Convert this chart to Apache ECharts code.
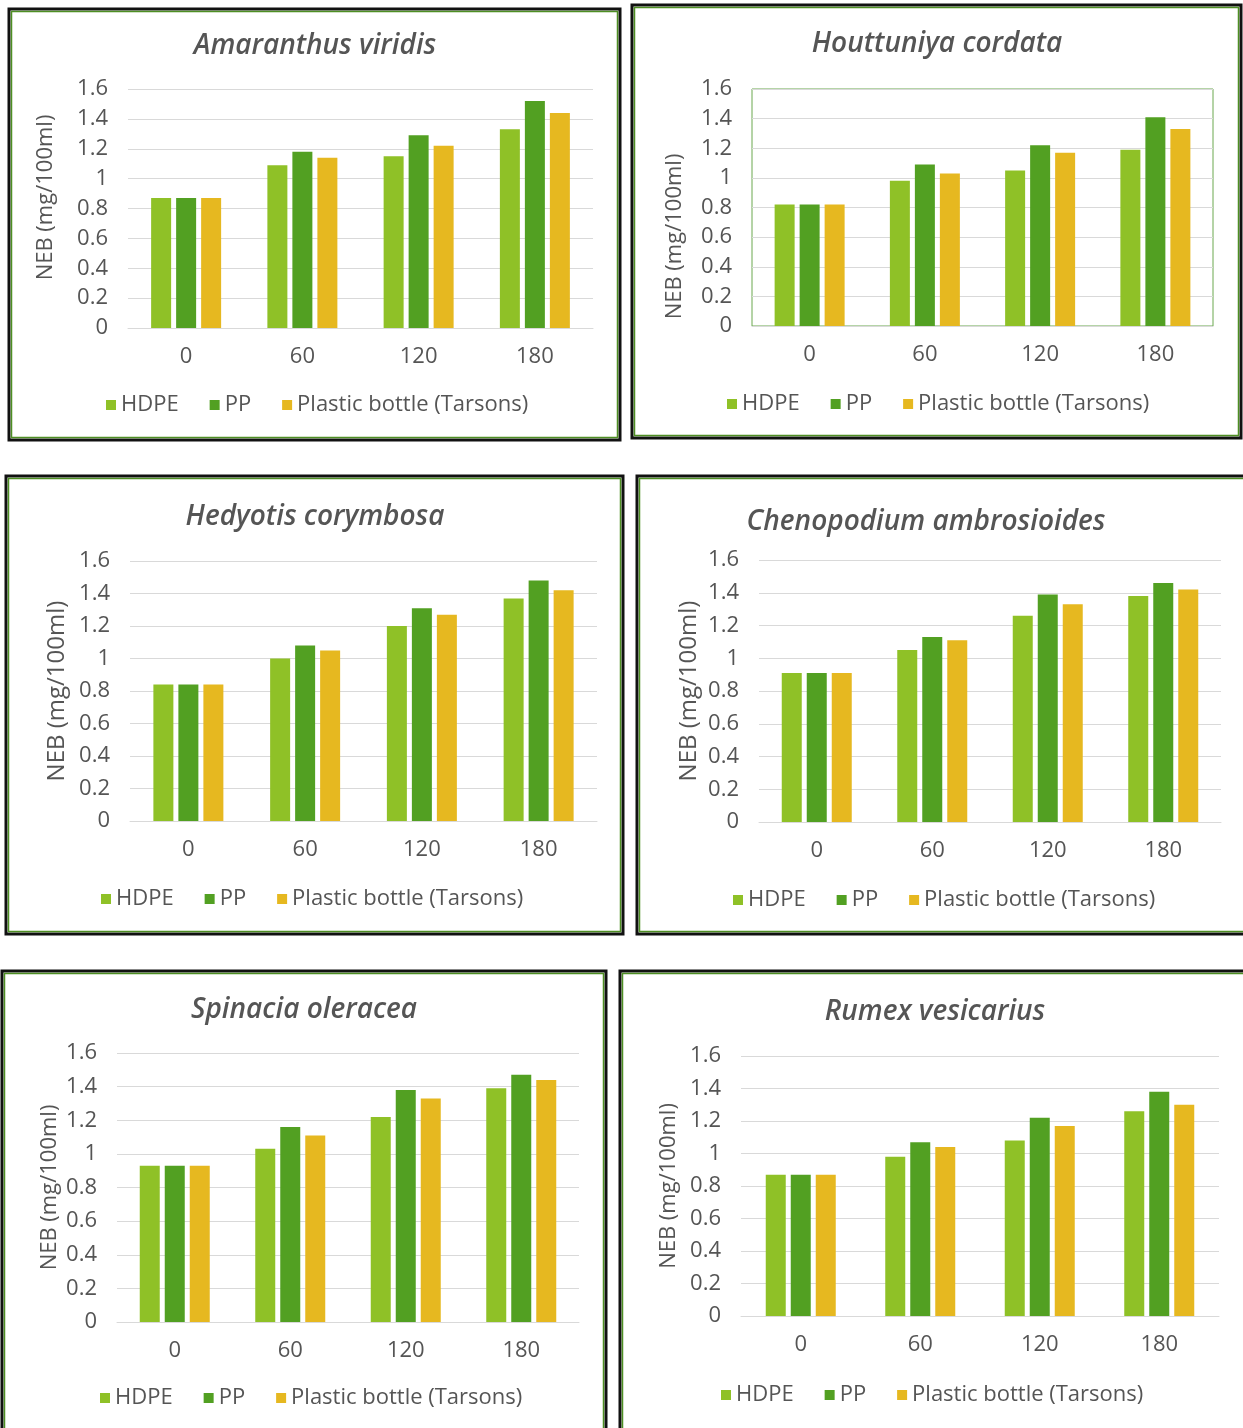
<!DOCTYPE html>
<html>
<head>
<meta charset="utf-8">
<script src="https://cdn.jsdelivr.net/npm/echarts@6/dist/echarts.min.js"></script>
<style>
html,body{margin:0;padding:0;background:#fff;}
#chart{width:1243px;height:1428px;}
</style>
</head>
<body>
<div id="chart"></div>
<script>
// ---- data ----
const categories = ['0', '60', '120', '180'];
const seriesNames = ['HDPE', 'PP', 'Plastic bottle (Tarsons)'];
const panelTitles = ['Amaranthus viridis', 'Houttuniya cordata', 'Hedyotis corymbosa',
  'Chenopodium ambrosioides', 'Spinacia oleracea', 'Rumex vesicarius'];
const yAxisName = 'NEB (mg/100ml)';
const yMin = 0, yMax = 1.6, yStep = 0.2;

const amaranthusHDPE = [0.87, 1.09, 1.15, 1.33];
const amaranthusPP = [0.87, 1.18, 1.29, 1.52];
const amaranthusTarsons = [0.87, 1.14, 1.22, 1.44];

const houttuniyaHDPE = [0.82, 0.98, 1.05, 1.19];
const houttuniyaPP = [0.82, 1.09, 1.22, 1.41];
const houttuniyaTarsons = [0.82, 1.03, 1.17, 1.33];

const hedyotisHDPE = [0.84, 1.00, 1.20, 1.37];
const hedyotisPP = [0.84, 1.08, 1.31, 1.48];
const hedyotisTarsons = [0.84, 1.05, 1.27, 1.42];

const chenopodiumHDPE = [0.91, 1.05, 1.26, 1.38];
const chenopodiumPP = [0.91, 1.13, 1.39, 1.46];
const chenopodiumTarsons = [0.91, 1.11, 1.33, 1.42];

const spinaciaHDPE = [0.93, 1.03, 1.22, 1.39];
const spinaciaPP = [0.93, 1.16, 1.38, 1.47];
const spinaciaTarsons = [0.93, 1.11, 1.33, 1.44];

const rumexHDPE = [0.87, 0.98, 1.08, 1.26];
const rumexPP = [0.87, 1.07, 1.22, 1.38];
const rumexTarsons = [0.87, 1.04, 1.17, 1.30];

const panelData = [
  [amaranthusHDPE, amaranthusPP, amaranthusTarsons],
  [houttuniyaHDPE, houttuniyaPP, houttuniyaTarsons],
  [hedyotisHDPE, hedyotisPP, hedyotisTarsons],
  [chenopodiumHDPE, chenopodiumPP, chenopodiumTarsons],
  [spinaciaHDPE, spinaciaPP, spinaciaTarsons],
  [rumexHDPE, rumexPP, rumexTarsons]
];

// ---- layout / style ----
const colors = ['#8FC127', '#52A022', '#E6B820'];
const FONT = 'Open Sans';
const TXT = '#555555';
// nameShift: >0 moves the axis name up, <0 down (pixels)
const layout = [
  {box:[9,9,620,440],   grid:[128,89,465,239], title:[315,46],  nameGap:71, nameSize:22, nameShift:11,  legend:[106,405], plotBorder:false},
  {box:[632,5,1241,438],grid:[752,89,461,237], title:[937,44],  nameGap:66, nameSize:22, nameShift:-29, legend:[727,404], plotBorder:true},
  {box:[6,476,623,934], grid:[130,561,467,260],title:[315,517], nameGap:61, nameSize:24, nameShift:0,   legend:[101,899], plotBorder:false},
  {box:[637,476,1250,934],grid:[759,560,462,262],title:[926,522],nameGap:58, nameSize:24, nameShift:0,  legend:[733,900], plotBorder:false},
  {box:[2,971,606,1440],grid:[117,1053,462,269],title:[304,1010],nameGap:56, nameSize:22, nameShift:0,  legend:[100,1398], plotBorder:false},
  {box:[620,971,1250,1440],grid:[741,1056,478,260],title:[935,1012],nameGap:61, nameSize:22, nameShift:0, legend:[721,1395], plotBorder:false}
];

const grids = [], xAxes = [], yAxes = [], series = [], titles = [], legends = [], graphics = [];
layout.forEach((L, i) => {
  const [gl, gt, gw, gh] = L.grid;
  grids.push({left: gl, top: gt, width: gw, height: gh, containLabel: false,
    show: L.plotBorder, borderColor: '#6aa84f', borderWidth: 1});
  xAxes.push({type: 'category', gridIndex: i, data: categories,
    axisLine: {show: true, lineStyle: {color: '#d9d9d9', width: 1}},
    axisTick: {show: false},
    axisLabel: {color: TXT, fontSize: 22, fontFamily: FONT, margin: 18}});
  const s = L.nameShift;
  const namePad = s > 0 ? [0, 0, 0, 2 * s] : [0, -2 * s, 0, 0];
  yAxes.push({type: 'value', gridIndex: i, min: yMin, max: yMax, interval: yStep,
    name: yAxisName, nameLocation: 'middle', nameGap: L.nameGap,
    nameTextStyle: {color: TXT, fontSize: L.nameSize, fontFamily: FONT, padding: namePad},
    axisLine: {show: false}, axisTick: {show: false},
    splitLine: {show: true, lineStyle: {color: '#d9d9d9', width: 1}},
    axisLabel: {color: TXT, fontSize: 22, fontFamily: FONT, margin: 20, padding: [4, 0, 0, 0]}});
  panelData[i].forEach((arr, j) => {
    series.push({type: 'bar', name: seriesNames[j], xAxisIndex: i, yAxisIndex: i,
      data: arr, barWidth: 20, barGap: '25%', itemStyle: {color: colors[j]}});
  });
  titles.push({text: panelTitles[i], left: L.title[0], top: L.title[1] - 14, textAlign: 'center', padding: 0,
    textStyle: {fontFamily: FONT, fontStyle: 'italic', fontWeight: 600, fontSize: 28, color: TXT}});
  legends.push({data: seriesNames, left: L.legend[0], top: L.legend[1] - 11, padding: 0,
    icon: 'rect', itemWidth: 10, itemHeight: 10, itemGap: 31,
    textStyle: {color: TXT, fontSize: 22, fontFamily: FONT}});
  const [x1, y1, x2, y2] = L.box;
  graphics.push({type: 'rect', shape: {x: x1, y: y1, width: x2 - x1, height: y2 - y1},
    style: {fill: null, stroke: '#111', lineWidth: 3}, silent: true});
  graphics.push({type: 'rect', shape: {x: x1 + 2.5, y: y1 + 2.5, width: x2 - x1 - 5, height: y2 - y1 - 5},
    style: {fill: null, stroke: '#4e8f23', lineWidth: 1.5}, silent: true});
});

const chart = echarts.init(document.getElementById('chart'), null, {renderer: 'canvas'});
chart.setOption({
  animation: false,
  color: colors,
  title: titles,
  legend: legends,
  grid: grids,
  xAxis: xAxes,
  yAxis: yAxes,
  series: series,
  graphic: graphics
});
</script>
</body>
</html>
